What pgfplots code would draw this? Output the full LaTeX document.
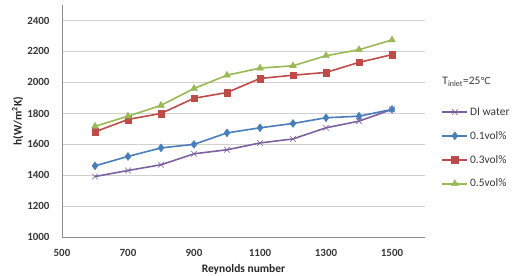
\documentclass[border=0pt]{standalone}
\usepackage{pgfplots}
\pgfplotsset{compat=1.18}
\usepackage{fontspec}
\setmainfont{Carlito}
\newfontfamily\dejavu{DejaVu Sans}
\definecolor{cpurple}{HTML}{7D60A0}
\definecolor{cblue}{HTML}{4A7EBB}
\definecolor{cred}{HTML}{BE4B48}
\definecolor{cgreen}{HTML}{98B954}
\begin{document}
\begin{tikzpicture}
\useasboundingbox (-62bp,-39bp) rectangle (454bp,237bp);
\begin{axis}[
  at={(0,0)}, anchor=south west,
  scale only axis, width=363bp, height=232bp,
  xmin=500, xmax=1600, ymin=1000, ymax=2500,
  xtick={500,700,900,1100,1300,1500},
  ytick={1000,1200,1400,1600,1800,2000,2200,2400},
  ymajorgrids, grid style={draw=black!18, line width=1pt},
  axis x line*=bottom, axis y line*=left,
  axis line style={draw=black!45, line width=0.8pt, -},
  tick style={draw=none},
  /pgf/number format/assume math mode=true,
  /pgf/number format/set thousands separator={},
  tick label style={font=\fontsize{11}{12}\selectfont\bfseries, text=black!78},
  yticklabel style={xshift=-9bp},
  xticklabel style={yshift=-9bp},
  xlabel={\bfseries Reynolds number},
  ylabel={\bfseries h(W/m\textsuperscript{2}K)},
  label style={font=\fontsize{11.5}{12}\selectfont, text=black!85},
  xlabel style={yshift=-1bp},
  ylabel style={yshift=-3bp},
  legend cell align=left,
  legend style={at={(1.045,0.575)}, anchor=north west, draw=none, fill=none,
    font=\fontsize{11.5}{12}\selectfont, text=black!78, row sep=10.5bp, inner xsep=0pt,
    nodes={inner xsep=2bp}},
  legend image code/.code={\draw[#1] (0bp,0bp) -- (25bp,0bp); \draw[#1, only marks] plot coordinates {(12.5bp,0bp)};},
  every axis plot/.append style={line width=1.6pt},
  clip=false,
]
\addplot[cpurple, mark=x, mark size=4bp, mark options={line width=0.6pt}] coordinates {
(600,1391) (700,1430) (800,1467) (900,1538) (1000,1564) (1100,1608) (1200,1634) (1300,1706) (1400,1749) (1500,1825)};
\addlegendentry{DI water}
\addplot[cblue, mark=diamond*, mark size=4bp, mark options={line width=0.4pt}] coordinates {
(600,1460) (700,1521) (800,1576) (900,1599) (1000,1673) (1100,1706) (1200,1734) (1300,1771) (1400,1781) (1500,1825)};
\addlegendentry{0.1vol\%}
\addplot[cred, mark=square*, mark size=3.3bp, mark options={line width=0.4pt}] coordinates {
(600,1680) (700,1760) (800,1799) (900,1897) (1000,1934) (1100,2025) (1200,2046) (1300,2064) (1400,2129) (1500,2179)};
\addlegendentry{0.3vol\%}
\addplot[cgreen, mark=triangle*, mark size=4bp, mark options={line width=0.4pt}] coordinates {
(600,1716) (700,1781) (800,1851) (900,1960) (1000,2046) (1100,2092) (1200,2107) (1300,2172) (1400,2211) (1500,2274)};
\addlegendentry{0.5vol\%}
\node[font=\fontsize{11.5}{12}\selectfont, text=black!78, anchor=center] at (rel axis cs:1.115,0.668) {T\textsubscript{inlet}=25{\dejavu\fontsize{9.5}{10}\selectfont ℃}};
\end{axis}
\end{tikzpicture}
\end{document}
